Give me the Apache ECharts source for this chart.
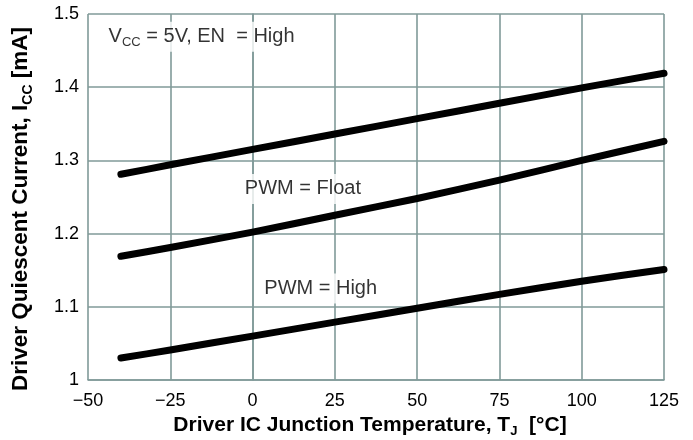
<!DOCTYPE html>
<html>
<head>
<meta charset="utf-8">
<script src="https://cdn.jsdelivr.net/npm/echarts@6/dist/echarts.min.js"></script>
<style>html,body{margin:0;padding:0;background:#fff}#c{width:693px;height:440px}</style>
</head>
<body>
<div id="c"></div>
<script>
const temps = [-40, -25, 0, 25, 50, 75, 100, 125];
const enHigh = [1.281, 1.294, 1.315, 1.336, 1.357, 1.378, 1.399, 1.419];
const pwmFloat = [1.169, 1.181, 1.202, 1.225, 1.248, 1.273, 1.300, 1.326];
const pwmHigh = [1.030, 1.041, 1.060, 1.079, 1.098, 1.117, 1.135, 1.151];
const xTicks = { min: -50, max: 125, step: 25 };
const yTicks = { min: 1, max: 1.5, step: 0.1 };
const annotations = [
  { x: -15.5, y: 1.469, text: '{a|V}{s|CC}{a| = 5V, EN  = High}' },
  { x: 15.3, y: 1.261, text: '{a|PWM = Float}' },
  { x: 20.7, y: 1.125, text: '{a|PWM = High}' }
];

const gridColor = '#809a99';
const font = '"Liberation Sans", Arial, Helvetica, sans-serif';
const pairs = arr => temps.map((t, i) => [t, arr[i]]);
const lineSeries = arr => ({
  type: 'line', data: pairs(arr), showSymbol: false, smooth: 0.2,
  lineStyle: { color: '#000', width: 7, cap: 'round', join: 'round' },
  silent: true, z: 3
});
const titleRich = (fs, sub) => ({
  b: { fontFamily: font, fontSize: fs, fontWeight: 'bold', color: '#000', lineHeight: fs + 5 },
  bs: { fontFamily: font, fontSize: sub, fontWeight: 'bold', color: '#000', verticalAlign: 'bottom', lineHeight: sub }
});

const chart = echarts.init(document.getElementById('c'), null, { renderer: 'canvas' });
chart.setOption({
  animation: false,
  backgroundColor: '#fff',
  grid: { left: 88, right: 29, top: 14, bottom: 60, containLabel: false, outerBoundsMode: 'none' },
  xAxis: {
    type: 'value', min: xTicks.min, max: xTicks.max, interval: xTicks.step,
    axisLine: { show: true, lineStyle: { color: gridColor, width: 1.6 } },
    axisTick: { show: false },
    splitLine: { show: true, lineStyle: { color: gridColor, width: 1.6 } },
    axisLabel: {
      color: '#000', fontFamily: font, fontSize: 18, margin: 12,
      formatter: v => (v < 0 ? '\u2212' + Math.abs(v) : String(v))
    },
    name: '{b|Driver IC Junction Temperature, T}{bs|J}{b|  [\u00B0C]}',
    nameLocation: 'middle', nameGap: 30,
    nameTextStyle: { padding: [0, 12, 0, 0], rich: titleRich(21, 13) }
  },
  yAxis: {
    type: 'value', min: yTicks.min, max: yTicks.max, interval: yTicks.step,
    axisLine: { show: true, lineStyle: { color: gridColor, width: 1.6 } },
    axisTick: { show: false },
    splitLine: { show: true, lineStyle: { color: gridColor, width: 1.6 } },
    axisLabel: {
      color: '#000', fontFamily: font, fontSize: 18, margin: 9,
      formatter: v => (Math.abs(v - 1) < 1e-9 ? '1' : v.toFixed(1))
    },
    name: '{b|Driver Quiescent Current, I}{bs|CC}{b| [mA]}',
    nameLocation: 'middle', nameGap: 53, nameRotate: 90,
    nameTextStyle: { padding: [0, 24, 0, 0], rich: titleRich(22.5, 14) }
  },
  series: [
    lineSeries(enHigh),
    lineSeries(pwmFloat),
    lineSeries(pwmHigh),
    {
      type: 'scatter', symbolSize: 0, silent: true, z: 4,
      data: annotations.map(a => ({ value: [a.x, a.y], text: a.text })),
      label: {
        show: true, position: 'inside',
        formatter: p => p.data.text,
        backgroundColor: '#fff', padding: [3, 5],
        rich: {
          a: { fontFamily: font, fontSize: 20, color: '#000', lineHeight: 24 },
          s: { fontFamily: font, fontSize: 13, color: '#000', verticalAlign: 'bottom', lineHeight: 12 }
        }
      }
    }
  ]
});
</script>
</body>
</html>
